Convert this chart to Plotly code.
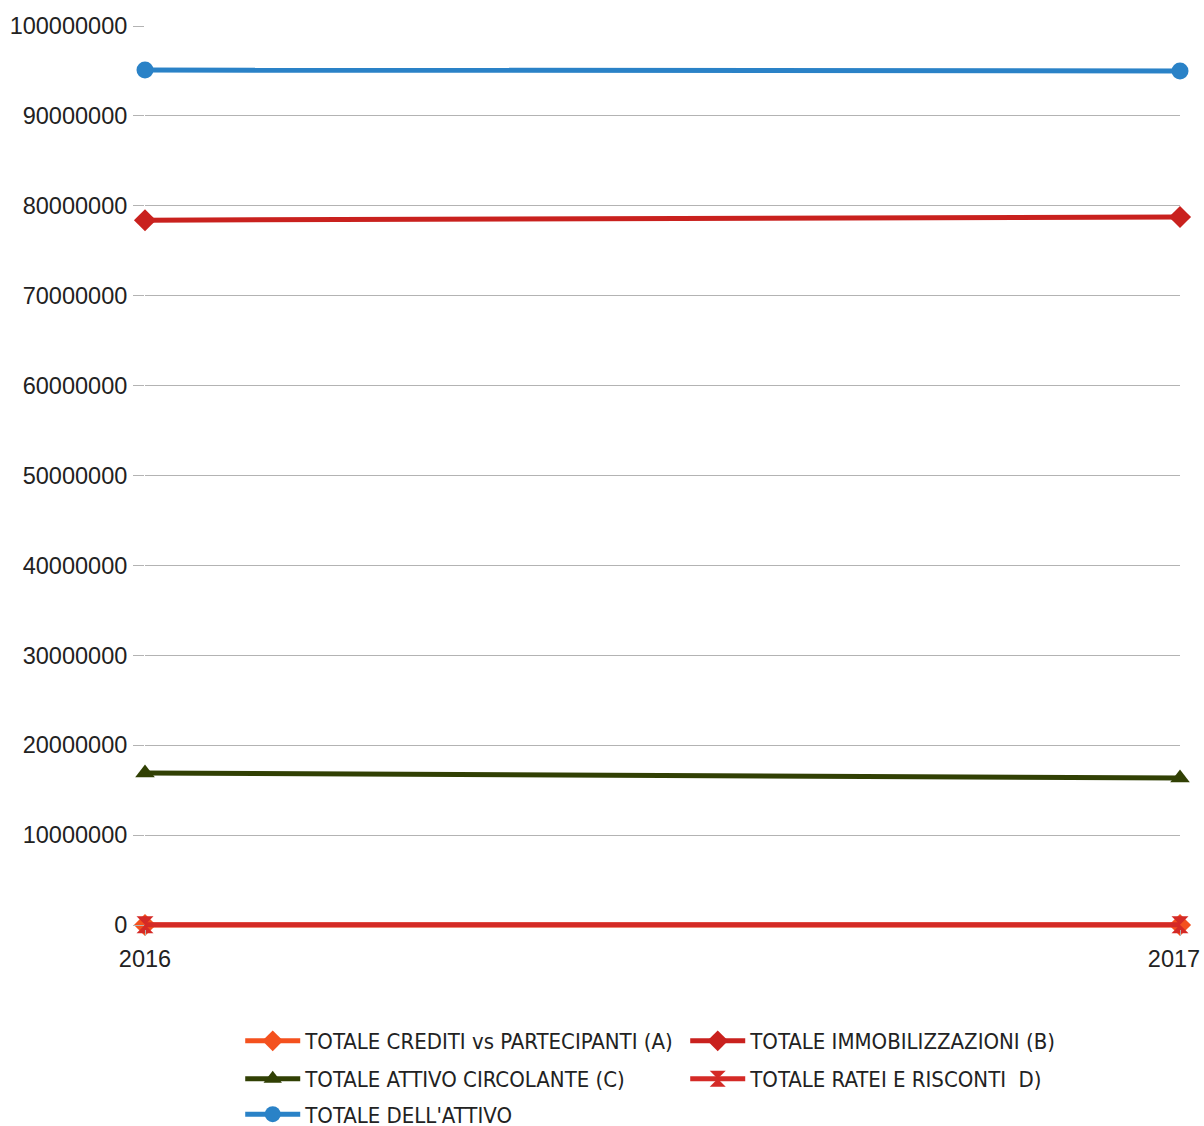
import plotly.graph_objects as go

years = [2016, 2017]
crediti_a = [0, 0]
immobilizzazioni_b = [78400000, 78750000]
attivo_circolante_c = [16900000, 16350000]
ratei_risconti_d = [20000, 20000]
totale_attivo = [95100000, 95000000]

series = [
    ("TOTALE CREDITI vs PARTECIPANTI (A)", crediti_a, "#f4511e", "diamond", "legend"),
    ("TOTALE IMMOBILIZZAZIONI (B)", immobilizzazioni_b, "#c9211e", "diamond", "legend"),
    ("TOTALE ATTIVO CIRCOLANTE (C)", attivo_circolante_c, "#314004", "triangle-up", "legend2"),
    ("TOTALE RATEI E RISCONTI  D)", ratei_risconti_d, "#d42a26", "hourglass", "legend2"),
    ("TOTALE DELL'ATTIVO", totale_attivo, "#2a82c7", "circle", "legend3"),
]

fig = go.Figure()
for name, vals, color, sym, leg in series:
    fig.add_trace(go.Scatter(
        x=years, y=vals, name=name, legend=leg,
        mode="lines+markers",
        line=dict(color=color, width=5),
        marker=dict(symbol=sym, size=17, color=color, line=dict(width=0)),
        cliponaxis=False,
    ))

# invisible helper trace so the label axis for the last year is drawn
fig.add_trace(go.Scatter(x=years, y=[None, None], xaxis="x2", showlegend=False,
                         hoverinfo="skip", mode="lines"))

legend_common = dict(
    orientation="h", x=0.092, xanchor="left", yanchor="top",
    entrywidth=375, entrywidthmode="pixels",
    font=dict(family="Liberation Sans Narrow, DejaVu Sans Condensed, Liberation Sans, sans-serif",
              size=22, color="#222222"),
    itemwidth=55, bgcolor="rgba(0,0,0,0)", traceorder="normal",
)

fig.update_layout(
    width=1204, height=1126,
    margin=dict(l=145, r=24, t=26, b=197, autoexpand=False),
    plot_bgcolor="white", paper_bgcolor="white",
    font=dict(family="Liberation Sans, Arial, sans-serif", size=23.5, color="#222222"),
    showlegend=True,
    legend=dict(legend_common, y=-0.1008),
    legend2=dict(legend_common, y=-0.1429),
    legend3=dict(legend_common, y=-0.1820),
    xaxis=dict(
        range=[2016, 2017], tickvals=years,
        ticktext=[str(years[0]), ""],
        showgrid=True, gridcolor="#b3b3b3", gridwidth=1,
        ticks="outside", ticklen=6, tickcolor="#b3b3b3",
        showline=False, zeroline=False, automargin=False,
        tickfont=dict(size=23.5), ticklabeloverflow="allow", ticklabelstandoff=3,
    ),
    xaxis2=dict(
        range=[2016 + 6 / 1035, 2017 + 6 / 1035], tickvals=years[1:],
        ticktext=[str(y) for y in years[1:]],
        overlaying="x", side="bottom", anchor="y",
        showgrid=False, ticks="", showline=False, zeroline=False,
        tickfont=dict(size=23.5), automargin=False,
        ticklabeloverflow="allow", ticklabelstandoff=13,
    ),
    yaxis=dict(
        range=[-444938, 100000000], tickvals=[i * 10000000 for i in range(11)], tickformat="d",
        showgrid=True, gridcolor="#b3b3b3", gridwidth=1,
        ticks="outside", ticklen=11, tickcolor="#b3b3b3",
        showline=False, zeroline=False, tickfont=dict(size=23.5),
        automargin=False, ticklabelstandoff=1,
    ),
)

fig.write_html(
    "out.html",
    config={"displayModeBar": False},
    post_script="document.body.style.margin='0';document.body.style.overflow='hidden';",
)
